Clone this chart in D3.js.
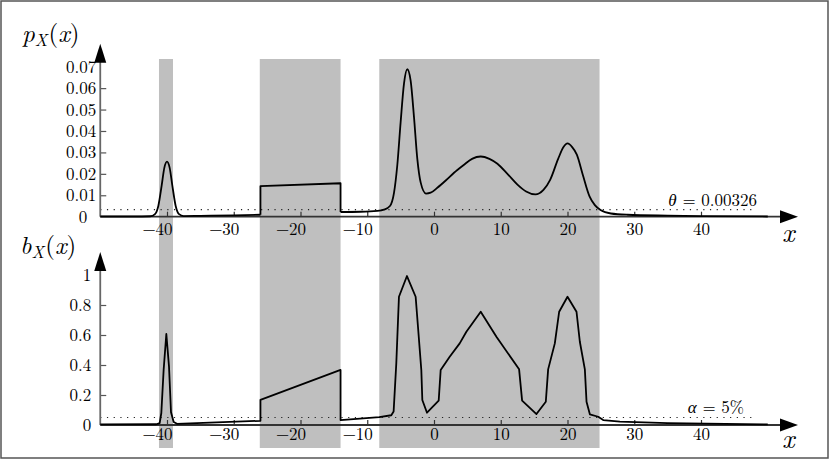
<!DOCTYPE html>
<html>
<head>
<meta charset="utf-8">
<script src="https://cdn.jsdelivr.net/npm/d3@7"></script>
<style>
  body { margin: 0; background: #fff; }
  svg { display: block; }
</style>
</head>
<body>
<svg id="chart" width="830" height="460"></svg>
<script>
// tick values
const xTicks = [-40, -30, -20, -10, 0, 10, 20, 30, 40];
const pTicks = [0, 0.01, 0.02, 0.03, 0.04, 0.05, 0.06, 0.07];
const bTicks = [0, 0.2, 0.4, 0.6, 0.8, 1];

// shaded intervals [from, to]
const bands = [[-41.2, -39.1], [-26.1, -14.0], [-8.2, 24.8]];

// thresholds
const theta = 0.00326;
const alpha = 0.05;

// p_X(x): smooth left part, the plateau, smooth right part
const pLeft = [
  [-50, 0.0001], [-45, 0.0001], [-42.5, 0.0002], [-41.8, 0.0012], [-41.3, 0.005],
  [-40.8, 0.0145], [-40.4, 0.0228], [-40.0, 0.0257], [-39.6, 0.0228], [-39.2, 0.0145],
  [-38.7, 0.005], [-38.2, 0.0012], [-37.5, 0.0003], [-35, 0.0004], [-30, 0.0006], [-26, 0.0009]
];
const pPlateau = [[-26, 0.0009], [-26, 0.0143], [-14, 0.0156], [-14, 0.0022]];
const pRight = [
  [-14, 0.0022], [-11, 0.0023], [-8.5, 0.0027], [-7.5, 0.0033], [-6.6, 0.005],
  [-6.0, 0.011], [-5.5, 0.024], [-5.0, 0.044], [-4.5, 0.062], [-4.0, 0.0688],
  [-3.5, 0.0635], [-3.0, 0.0466], [-2.5, 0.027], [-2.0, 0.016], [-1.2, 0.0108],
  [-0.5, 0.0112], [0.5, 0.0135], [1.8, 0.017], [3.0, 0.0205], [4.4, 0.024],
  [5.7, 0.027], [7.0, 0.0281], [8.3, 0.027], [9.5, 0.0247], [11.0, 0.02],
  [12.5, 0.015], [13.8, 0.0118], [15.2, 0.0104], [16.4, 0.0125], [17.4, 0.0172],
  [18.6, 0.027], [19.4, 0.0325], [20.0, 0.0342], [20.7, 0.0325], [21.4, 0.029],
  [22.3, 0.0195], [23.3, 0.0095], [24.1, 0.0054], [25.0, 0.003], [26.5, 0.0015],
  [29, 0.0009], [35, 0.0005], [40, 0.0003], [50, 0.0001]
];

// b_X(x), piecewise linear
const bCurve = [
  [-50, 0.004], [-41.6, 0.005], [-41.1, 0.012], [-40.85, 0.08], [-40.5, 0.37],
  [-40.1, 0.607], [-39.7, 0.39], [-39.4, 0.085], [-39.0, 0.02], [-38.5, 0.008],
  [-26.0, 0.028], [-26.0, 0.167], [-14.0, 0.367], [-14.0, 0.033], [-8.2, 0.052],
  [-6.4, 0.065], [-6.05, 0.09], [-5.65, 0.41], [-5.25, 0.855], [-4.05, 0.993],
  [-2.75, 0.855], [-2.4, 0.655], [-1.9, 0.367], [-1.75, 0.167], [-1.05, 0.082],
  [0.7, 0.162], [1.0, 0.367], [2.35, 0.455], [3.85, 0.544], [4.85, 0.622],
  [7.0, 0.755], [9.35, 0.589], [12.75, 0.371], [13.2, 0.162], [15.35, 0.073],
  [16.75, 0.155], [17.1, 0.371], [18.1, 0.544], [18.75, 0.755], [20.0, 0.855],
  [21.35, 0.755], [21.85, 0.555], [22.6, 0.371], [22.85, 0.155], [23.35, 0.071],
  [24.6, 0.055], [25.35, 0.033], [27.85, 0.022], [35, 0.012], [50, 0.004]
];

const serif = "'Latin Modern Roman', 'CMU Serif', 'Liberation Serif', 'Tinos', 'Times New Roman', " +
  "'Noto Serif', 'DejaVu Serif', 'FreeSerif', 'Nimbus Roman', serif";

const svg = d3.select("#chart");

const x = d3.scaleLinear().domain([-40, 40]).range([167, 701]);
const yP = d3.scaleLinear().domain([0, 0.07]).range([216.7, 66.7]);
const yB = d3.scaleLinear().domain([0, 1]).range([425, 275]);

const axisLeftX = x(-50);
const arrowTipX = 798;

// frame
svg.append("rect")
  .attr("x", 1).attr("y", 1).attr("width", 827).attr("height", 457)
  .attr("fill", "none").attr("stroke", "#555").attr("stroke-width", 1.5);

// grey bands through both panels
svg.selectAll(".band")
  .data(bands)
  .enter().append("rect")
  .attr("class", "band")
  .attr("x", d => x(d[0]))
  .attr("width", d => x(d[1]) - x(d[0]))
  .attr("y", 59)
  .attr("height", 389)
  .attr("fill", "#bfbfbf");

// dotted threshold lines
function dotted(yv) {
  svg.append("line")
    .attr("x1", axisLeftX).attr("x2", 756)
    .attr("y1", yv).attr("y2", yv)
    .attr("stroke", "#222").attr("stroke-width", 1.2)
    .attr("stroke-dasharray", "1.2 5.5");
}
dotted(yP(theta));
dotted(yB(alpha));

function fmtX(d) { return d < 0 ? "\u2212" + Math.abs(d) : String(d); }

function panel(y, ticks, fmt, labelPad, zeroShift, xLabelPad) {
  const y0 = y(0);

  // x ticks and labels
  const gx = svg.append("g")
    .attr("transform", `translate(0,${y0})`)
    .call(d3.axisBottom(x).tickValues(xTicks).tickSize(-5).tickPadding(xLabelPad).tickFormat(fmtX));
  gx.select(".domain").remove();
  gx.selectAll(".tick line").attr("stroke", "#333").attr("stroke-width", 1.2);
  gx.selectAll(".tick text")
    .style("font-family", serif)
    .style("font-size", "17px")
    .attr("fill", "#000")
    .attr("dx", d => d < 0 ? -10 : 0);

  // y ticks and labels
  const top = ticks[ticks.length - 1];
  const gy = svg.append("g")
    .attr("transform", `translate(${axisLeftX},0)`)
    .call(d3.axisLeft(y).tickValues(ticks).tickSize(-6).tickPadding(labelPad).tickFormat(fmt));
  gy.select(".domain").remove();
  gy.selectAll(".tick line")
    .attr("stroke", "#555").attr("stroke-width", 1.2)
    .attr("display", d => (d === 0 || d === top) ? "none" : null);
  gy.selectAll(".tick text")
    .style("font-family", serif)
    .style("font-size", "17px")
    .attr("fill", "#000")
    .attr("dx", d => d === 0 ? zeroShift : 0);

  // x axis line with arrow
  svg.append("line")
    .attr("x1", axisLeftX).attr("x2", arrowTipX - 14)
    .attr("y1", y0).attr("y2", y0)
    .attr("stroke", "#333").attr("stroke-width", 1.8);
  svg.append("path")
    .attr("d", `M${arrowTipX},${y0} L${arrowTipX - 18},${y0 - 6.5} L${arrowTipX - 18},${y0 + 6.5} Z`)
    .attr("fill", "#000");

  // y axis line with arrow
  const tipY = y(top) - 23;
  svg.append("line")
    .attr("x1", axisLeftX).attr("x2", axisLeftX)
    .attr("y1", y0).attr("y2", tipY + 14)
    .attr("stroke", "#666").attr("stroke-width", 1.8);
  svg.append("path")
    .attr("d", `M${axisLeftX},${tipY} L${axisLeftX - 6},${tipY + 19} L${axisLeftX + 6},${tipY + 19} Z`)
    .attr("fill", "#000");
}

panel(yP, pTicks, d => d === 0 ? "0" : d3.format(".2f")(d), 4, -9, 6);
panel(yB, bTicks, d => (d === 0 || d === 1) ? String(d) : d3.format(".1f")(d), 9, 0, 3);

// curves
const lineP = d3.line().x(d => x(d[0])).y(d => yP(d[1])).curve(d3.curveMonotoneX);
const lineFlat = d3.line().x(d => x(d[0])).y(d => yP(d[1]));
const lineB = d3.line().x(d => x(d[0])).y(d => yB(d[1]));

[[pLeft, lineP], [pPlateau, lineFlat], [pRight, lineP], [bCurve, lineB]].forEach(([data, gen]) => {
  svg.append("path")
    .attr("d", gen(data))
    .attr("fill", "none")
    .attr("stroke", "#000")
    .attr("stroke-width", 1.8)
    .attr("stroke-linejoin", "round");
});

// axis titles
function mathLabel(xp, yp, base, sub) {
  const t = svg.append("text").attr("x", xp).attr("y", yp)
    .style("font-family", serif).style("font-size", "25px");
  t.append("tspan").style("font-style", "italic").text(base);
  t.append("tspan").style("font-style", "italic").style("font-size", "17px").attr("dy", 4).text(sub);
  t.append("tspan").attr("dy", -4).attr("dx", 1).text("(");
  t.append("tspan").style("font-style", "italic").text("x");
  t.append("tspan").text(")");
}
mathLabel(22, 42, "p", "X");
mathLabel(20, 254, "b", "X");

[242, 448].forEach(yy => {
  svg.append("text").attr("x", 782).attr("y", yy)
    .style("font-family", serif).style("font-size", "27px").style("font-style", "italic")
    .text("x");
});

// threshold notes
const th = svg.append("text").attr("x", 757).attr("y", 206)
  .style("font-family", serif).style("font-size", "17px").attr("text-anchor", "end");
th.append("tspan").style("font-style", "italic").text("\u03b8");
th.append("tspan").text(" = " + theta);

const al = svg.append("text").attr("x", 744).attr("y", 413)
  .style("font-family", serif).style("font-size", "17px").attr("text-anchor", "end");
al.append("tspan").style("font-style", "italic").text("\u03b1");
al.append("tspan").text(" = " + Math.round(alpha * 100) + "%");
</script>
</body>
</html>
